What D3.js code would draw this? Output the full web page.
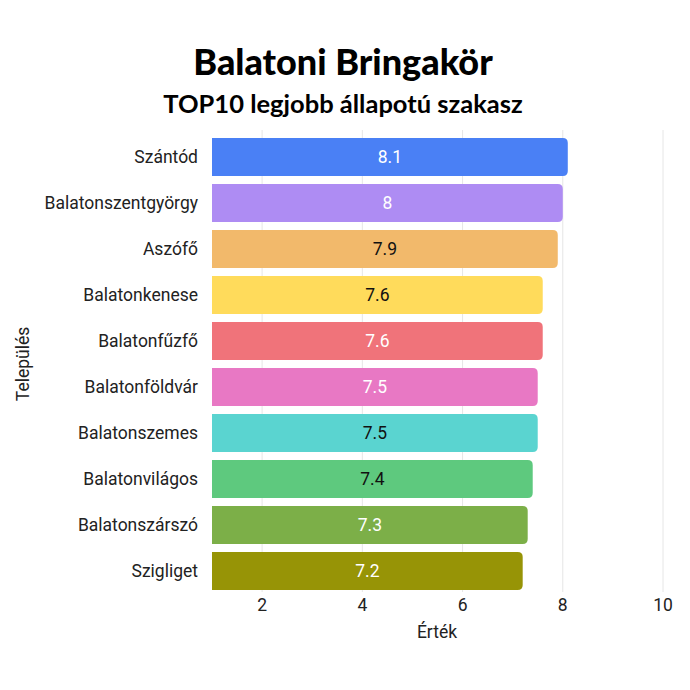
<!DOCTYPE html>
<html><head><meta charset="utf-8">
<script src="https://cdn.jsdelivr.net/npm/d3@7"></script>
<style>html,body{margin:0;padding:0;background:#fff;}</style>
</head><body>
<svg id="c" width="690" height="690"></svg>
<script>
const categories = ["Szántód","Balatonszentgyörgy","Aszófő","Balatonkenese","Balatonfűzfő","Balatonföldvár","Balatonszemes","Balatonvilágos","Balatonszárszó","Szigliget"];
const values = [8.1, 8, 7.9, 7.6, 7.6, 7.5, 7.5, 7.4, 7.3, 7.2];
const colors = ["#4a80f5","#ae8cf3","#f2b96b","#ffdb5b","#f0737a","#e878c4","#5ad4d0","#5ec97e","#7caf48","#979406"];
const labelColors = ["#ffffff","#ffffff","#111111","#111111","#ffffff","#ffffff","#111111","#111111","#ffffff","#ffffff"];
const xTicks = [2,4,6,8,10];
const title = "Balatoni Bringakör";
const subtitle = "TOP10 legjobb állapotú szakasz";
const xTitle = "Érték";
const yTitle = "Település";

const svg = d3.select("#c");
const m = {left:212, right:663, top:138, bottom:590};
const x = d3.scaleLinear().domain([1,10]).range([m.left, m.right]);
const y = d3.scaleBand().domain(categories).range([m.top, m.bottom]).paddingInner(8/46).paddingOuter(0);
const FS = 17.5;

// grid
svg.append("g").selectAll("line").data(xTicks).join("line")
  .attr("x1", d=>x(d)).attr("x2", d=>x(d))
  .attr("y1", m.top-8).attr("y2", m.bottom+2)
  .attr("stroke", "#e6e6e6").attr("stroke-width", 1);

const bh = y.bandwidth();
const r = 5;
function barPath(x0, x1, y0, h){
  const rr = Math.min(r, (x1-x0)/2, h/2);
  return `M${x0},${y0}H${x1-rr}Q${x1},${y0} ${x1},${y0+rr}V${y0+h-rr}Q${x1},${y0+h} ${x1-rr},${y0+h}H${x0}Z`;
}
const data = categories.map((c,i)=>({c, v:values[i], col:colors[i], lc:labelColors[i]}));
svg.append("g").selectAll("path").data(data).join("path")
  .attr("d", d=>barPath(x(1), x(d.v), y(d.c), bh))
  .attr("fill", d=>d.col);

svg.append("g").selectAll("text").data(data).join("text")
  .attr("x", d=>(x(1)+x(d.v))/2).attr("y", d=>y(d.c)+bh/2)
  .attr("dy","0.36em").attr("text-anchor","middle")
  .attr("font-family","Roboto, sans-serif").attr("font-size",FS)
  .attr("fill", d=>d.lc).text(d=>d.v);

// y labels
svg.append("g").selectAll("text").data(categories).join("text")
  .attr("x", 198).attr("y", d=>y(d)+bh/2).attr("dy","0.36em")
  .attr("text-anchor","end").attr("font-family","Roboto, sans-serif")
  .attr("font-size",FS).attr("fill","#222").text(d=>d);

// x tick labels
svg.append("g").selectAll("text").data(xTicks).join("text")
  .attr("x", d=>x(d)).attr("y", 605).attr("dy","0.36em")
  .attr("text-anchor","middle").attr("font-family","Roboto, sans-serif")
  .attr("font-size",FS).attr("fill","#222").text(d=>d);

svg.append("text").attr("x", 437).attr("y", 632).attr("dy","0.36em")
  .attr("text-anchor","middle").attr("font-family","Roboto, sans-serif")
  .attr("font-size",FS).attr("fill","#222").text(xTitle);

svg.append("text").attr("transform","translate(23,364) rotate(-90)")
  .attr("dy","0.36em").attr("text-anchor","middle").attr("font-family","Roboto, sans-serif")
  .attr("font-size",FS).attr("fill","#222").text(yTitle);

svg.append("text").attr("x", 343).attr("y", 62).attr("dy","0.36em")
  .attr("text-anchor","middle").attr("font-family","Lato, sans-serif").attr("font-weight",900)
  .attr("font-size",36).attr("fill","#000").text(title);
svg.append("text").attr("x", 343).attr("y", 104).attr("dy","0.36em")
  .attr("text-anchor","middle").attr("font-family","Lato, sans-serif").attr("font-weight",700)
  .attr("font-size",25.5).attr("fill","#000").text(subtitle);
</script>
</body></html>
